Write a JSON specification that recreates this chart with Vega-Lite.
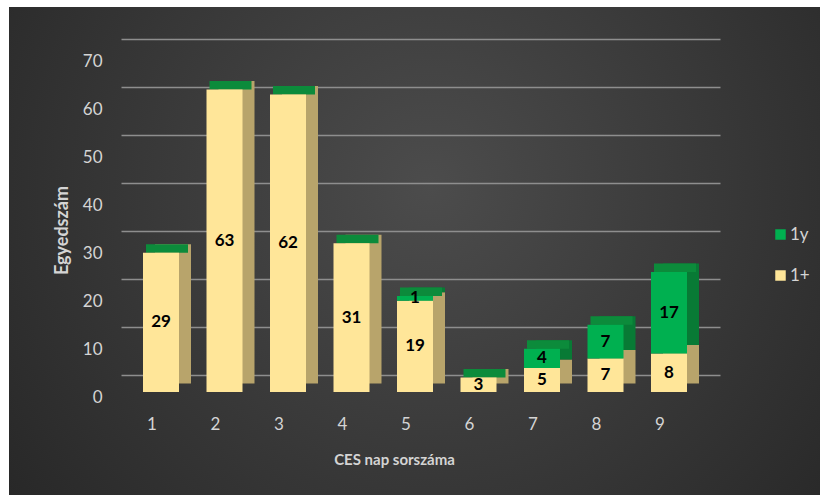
{
  "$schema": "https://vega.github.io/schema/vega-lite/v6.json",
  "width": 811,
  "height": 488,
  "autosize": {"type": "none"},
  "padding": {"left": 9, "top": 7, "right": 0, "bottom": 0},
  "background": "#ffffff",
  "config": {
    "font": "Lato",
    "view": {
      "stroke": null,
      "fill": {
        "gradient": "radial",
        "x1": 0.52, "y1": 0.42, "r1": 0,
        "x2": 0.52, "y2": 0.42, "r2": 0.75,
        "stops": [
          {"offset": 0, "color": "#4c4c4c"},
          {"offset": 1, "color": "#222222"}
        ]
      }
    }
  },
  "data": {
    "values": [
      {"nap": 1, "kor": "1+", "db": 29}, {"nap": 1, "kor": "1y", "db": 0},
      {"nap": 2, "kor": "1+", "db": 63}, {"nap": 2, "kor": "1y", "db": 0},
      {"nap": 3, "kor": "1+", "db": 62}, {"nap": 3, "kor": "1y", "db": 0},
      {"nap": 4, "kor": "1+", "db": 31}, {"nap": 4, "kor": "1y", "db": 0},
      {"nap": 5, "kor": "1+", "db": 19}, {"nap": 5, "kor": "1y", "db": 1},
      {"nap": 6, "kor": "1+", "db": 3}, {"nap": 6, "kor": "1y", "db": 0},
      {"nap": 7, "kor": "1+", "db": 5}, {"nap": 7, "kor": "1y", "db": 4},
      {"nap": 8, "kor": "1+", "db": 7}, {"nap": 8, "kor": "1y", "db": 7},
      {"nap": 9, "kor": "1+", "db": 8}, {"nap": 9, "kor": "1y", "db": 17}
    ]
  },
  "encoding": {
    "x": {
      "field": "nap",
      "type": "ordinal",
      "scale": {"range": [112, 711], "paddingInner": 0.433, "paddingOuter": 0.433, "align": 0.4},
      "axis": {
        "orient": "bottom",
        "offset": -82,
        "labelAngle": 0,
        "labelOffset": -9,
        "labelPadding": 3,
        "labelFontSize": 17,
        "labelColor": "#d4d4d4",
        "domain": false,
        "ticks": false,
        "tickSize": 0,
        "title": "CES nap sorszáma",
        "titleFontSize": 15,
        "titleFontWeight": "bold",
        "titleColor": "#d4d4d4",
        "titlePadding": 20,
        "titleX": 385
      }
    }
  },
  "layer": [
    {
      "mark": {"type": "tick", "opacity": 0},
      "encoding": {
        "y": {
          "field": "db",
          "type": "quantitative",
          "scale": {"domain": [0, 70], "range": [368, 32]},
          "axis": {
            "orient": "left",
            "offset": -95,
            "values": [0, 10, 20, 30, 40, 50, 60, 70],
            "grid": true,
            "gridColor": "#8e8e8e",
            "gridWidth": 1.5,
            "domain": false,
            "ticks": false,
            "tickSize": 0,
            "labelPadding": 2,
            "labelOffset": 22,
            "labelFontSize": 17,
            "labelColor": "#d4d4d4",
            "title": "Egyedszám",
            "titleFontSize": 18,
            "titleFontWeight": "bold",
            "titleColor": "#d4d4d4",
            "titlePadding": 11,
            "titleY": 223
          }
        }
      }
    },
    {
      "layer": [
        {
          "mark": {"type": "bar", "xOffset": 12, "yOffset": -8.5},
          "encoding": {
            "y": {"field": "db", "type": "quantitative", "stack": "zero", "title": "Egyedszám",
                  "scale": {"domain": [0, 70], "range": [385, 49]}, "axis": null},
            "color": {"field": "kor", "type": "nominal",
                      "scale": {"domain": ["1y", "1+"], "range": ["#087a35", "#b8a46b"]},
                      "legend": null},
            "order": {"field": "kor", "type": "nominal", "sort": "ascending"}
          }
        },
        {
          "transform": [
            {"aggregate": [{"op": "sum", "field": "db", "as": "total"}], "groupby": ["nap"]}
          ],
          "mark": {"type": "tick", "size": 42, "thickness": 8.5, "xOffset": 6, "yOffset": -4.25, "color": "#0c8b3b", "opacity": 1},
          "encoding": {
            "y": {"field": "total", "type": "quantitative", "title": "Egyedszám",
                  "scale": {"domain": [0, 70], "range": [385, 49]}, "axis": null}
          }
        },
        {
          "mark": {"type": "bar"},
          "encoding": {
            "y": {"field": "db", "type": "quantitative", "stack": "zero", "title": "Egyedszám",
                  "scale": {"domain": [0, 70], "range": [385, 49]}, "axis": null},
            "fill": {"field": "kor", "type": "nominal",
                      "scale": {"domain": ["1y", "1+"], "range": ["#00b050", "#ffe699"]},
                      "legend": {
                        "orient": "none",
                        "legendX": 763,
                        "legendY": 219,
                        "title": null,
                        "padding": 0,
                        "symbolType": "square",
                        "symbolSize": 110,
                        "symbolStrokeWidth": 0,
                        "labelFontSize": 17,
                        "labelColor": "#d4d4d4",
                        "labelOffset": 1,
                        "rowPadding": 23
                      }},
            "order": {"field": "kor", "type": "nominal", "sort": "ascending"}
          }
        },
        {
          "transform": [
            {"filter": "datum.db > 0"},
            {"stack": "db", "groupby": ["nap"], "sort": [{"field": "kor", "order": "ascending"}], "as": ["lo", "hi"]},
            {"calculate": "(datum.lo + datum.hi) / 2", "as": "mid"}
          ],
          "mark": {"type": "text", "fontSize": 17, "fontWeight": "bold", "color": "#000000", "baseline": "middle"},
          "encoding": {
            "y": {"field": "mid", "type": "quantitative", "title": "Egyedszám",
                  "scale": {"domain": [0, 70], "range": [385, 49]}, "axis": null},
            "text": {"field": "db", "type": "quantitative"}
          }
        }
      ],
      "resolve": {"scale": {"color": "independent"}}
    }
  ],
  "resolve": {"scale": {"y": "independent"}, "axis": {"y": "independent"}}
}
